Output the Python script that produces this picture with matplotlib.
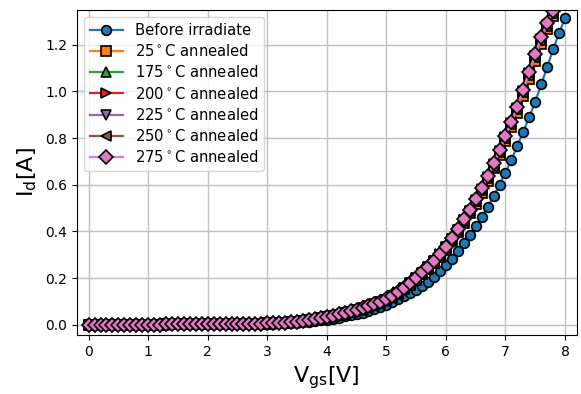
import numpy as np
import matplotlib
matplotlib.use("Agg")
import matplotlib.pyplot as plt

# Gate voltage sweep (V), 0.1 V steps
vgs = np.round(np.arange(0, 8.05, 0.1), 1)

low_part = [0.000] * 10 + \
    [0.000, 0.000, 0.000, 0.001, 0.001, 0.001, 0.001, 0.001, 0.001, 0.001] + \
    [0.001, 0.001, 0.002, 0.002, 0.002, 0.002, 0.003, 0.003, 0.003, 0.004]

before_irradiate = [0.000] * 10 + \
    [0.000, 0.000, 0.000, 0.000, 0.001, 0.001, 0.001, 0.001, 0.001, 0.001] + \
    [0.001, 0.001, 0.001, 0.001, 0.002, 0.002, 0.002, 0.002, 0.003, 0.003] + \
    [0.003, 0.004, 0.005, 0.006, 0.007, 0.009, 0.011, 0.013, 0.016, 0.019] + \
    [0.022, 0.026, 0.030, 0.035, 0.040, 0.046, 0.052, 0.059, 0.067, 0.076] + \
    [0.086, 0.097, 0.109, 0.121, 0.135, 0.150, 0.166, 0.184, 0.205, 0.228] + \
    [0.254, 0.282, 0.315, 0.348, 0.385, 0.423, 0.462, 0.505, 0.550, 0.600] + \
    [0.652, 0.707, 0.768, 0.828, 0.890, 0.956, 1.030, 1.105, 1.180, 1.250, 1.315]

annealed_25 = low_part + \
    [0.004, 0.005, 0.006, 0.008, 0.010, 0.012, 0.015, 0.018, 0.021, 0.026] + \
    [0.031, 0.036, 0.041, 0.047, 0.054, 0.061, 0.069, 0.077, 0.085, 0.094] + \
    [0.104, 0.117, 0.133, 0.151, 0.171, 0.193, 0.216, 0.239, 0.264, 0.292] + \
    [0.321, 0.357, 0.396, 0.437, 0.477, 0.519, 0.566, 0.616, 0.670, 0.727] + \
    [0.786, 0.846, 0.908, 0.979, 1.054, 1.130, 1.203, 1.268, 1.322, 1.385, 1.445]

annealed_175 = low_part + \
    [0.005, 0.006, 0.007, 0.009, 0.011, 0.013, 0.016, 0.019, 0.022, 0.027] + \
    [0.032, 0.037, 0.043, 0.049, 0.056, 0.063, 0.071, 0.079, 0.087, 0.096] + \
    [0.106, 0.120, 0.137, 0.156, 0.177, 0.199, 0.222, 0.245, 0.271, 0.299] + \
    [0.329, 0.365, 0.405, 0.446, 0.486, 0.529, 0.577, 0.628, 0.682, 0.740] + \
    [0.800, 0.860, 0.924, 0.996, 1.072, 1.147, 1.220, 1.282, 1.335, 1.400, 1.460]

annealed_200 = low_part + \
    [0.005, 0.006, 0.007, 0.009, 0.011, 0.013, 0.016, 0.019, 0.023, 0.027] + \
    [0.032, 0.038, 0.043, 0.050, 0.056, 0.064, 0.071, 0.080, 0.088, 0.097] + \
    [0.107, 0.121, 0.138, 0.157, 0.178, 0.200, 0.223, 0.247, 0.273, 0.301] + \
    [0.332, 0.368, 0.408, 0.449, 0.489, 0.533, 0.581, 0.632, 0.687, 0.745] + \
    [0.805, 0.865, 0.929, 1.002, 1.078, 1.153, 1.226, 1.287, 1.340, 1.405, 1.465]

annealed_225 = low_part + \
    [0.005, 0.006, 0.007, 0.009, 0.011, 0.013, 0.016, 0.019, 0.022, 0.027] + \
    [0.032, 0.037, 0.043, 0.049, 0.056, 0.063, 0.071, 0.079, 0.088, 0.097] + \
    [0.106, 0.121, 0.137, 0.157, 0.178, 0.200, 0.223, 0.246, 0.272, 0.300] + \
    [0.331, 0.366, 0.406, 0.447, 0.487, 0.531, 0.579, 0.630, 0.685, 0.742] + \
    [0.802, 0.862, 0.926, 0.999, 1.075, 1.150, 1.223, 1.285, 1.338, 1.402, 1.462]

annealed_250 = low_part + \
    [0.005, 0.006, 0.007, 0.009, 0.011, 0.013, 0.016, 0.019, 0.023, 0.028] + \
    [0.033, 0.038, 0.044, 0.050, 0.057, 0.064, 0.072, 0.080, 0.089, 0.098] + \
    [0.108, 0.122, 0.139, 0.158, 0.179, 0.201, 0.224, 0.248, 0.274, 0.302] + \
    [0.333, 0.370, 0.410, 0.451, 0.491, 0.535, 0.583, 0.635, 0.690, 0.748] + \
    [0.808, 0.868, 0.932, 1.005, 1.082, 1.157, 1.230, 1.290, 1.343, 1.408, 1.468]

annealed_275 = low_part + \
    [0.005, 0.006, 0.007, 0.009, 0.011, 0.013, 0.016, 0.019, 0.023, 0.028] + \
    [0.033, 0.038, 0.044, 0.050, 0.057, 0.064, 0.072, 0.080, 0.089, 0.098] + \
    [0.108, 0.123, 0.140, 0.159, 0.180, 0.202, 0.225, 0.249, 0.275, 0.304] + \
    [0.335, 0.372, 0.412, 0.453, 0.493, 0.537, 0.585, 0.637, 0.692, 0.750] + \
    [0.810, 0.870, 0.935, 1.008, 1.085, 1.160, 1.232, 1.292, 1.345, 1.410, 1.470]

labels = ["Before irradiate",
          "25$^\\circ$C annealed",
          "175$^\\circ$C annealed",
          "200$^\\circ$C annealed",
          "225$^\\circ$C annealed",
          "250$^\\circ$C annealed",
          "275$^\\circ$C annealed"]
series = [before_irradiate, annealed_25, annealed_175, annealed_200,
          annealed_225, annealed_250, annealed_275]
markers = ["o", "s", "^", ">", "v", "<", "D"]
colors = ["#1f77b4", "#ff7f0e", "#2ca02c", "#d62728", "#9467bd", "#8c564b", "#e377c2"]

fig = plt.figure(figsize=(5.81, 3.94), dpi=100)
ax = fig.add_axes([0.132, 0.150, 0.861, 0.825])

for y, lab, m, c in zip(series, labels, markers, colors):
    ax.plot(vgs, y, marker=m, color=c, markeredgecolor="k",
            markersize=7, markeredgewidth=1.2, linewidth=1.6, label=lab)

ax.set_xlim(-0.2, 8.2)
ax.set_ylim(-0.044, 1.35)
ax.set_yticks([0.0, 0.2, 0.4, 0.6, 0.8, 1.0, 1.2])
ax.set_xticks(range(0, 9))
ax.grid(True, color="#c0c0c0", linewidth=1.0)
ax.set_xlabel("V$_{\\mathrm{gs}}$[V]", fontsize=16)
ax.set_ylabel("I$_{\\mathrm{d}}$[A]", fontsize=16)
ax.legend(loc="upper left", fontsize=10.6, handlelength=2.24,
          labelspacing=0.35)

fig.savefig("out.png", dpi=100)
